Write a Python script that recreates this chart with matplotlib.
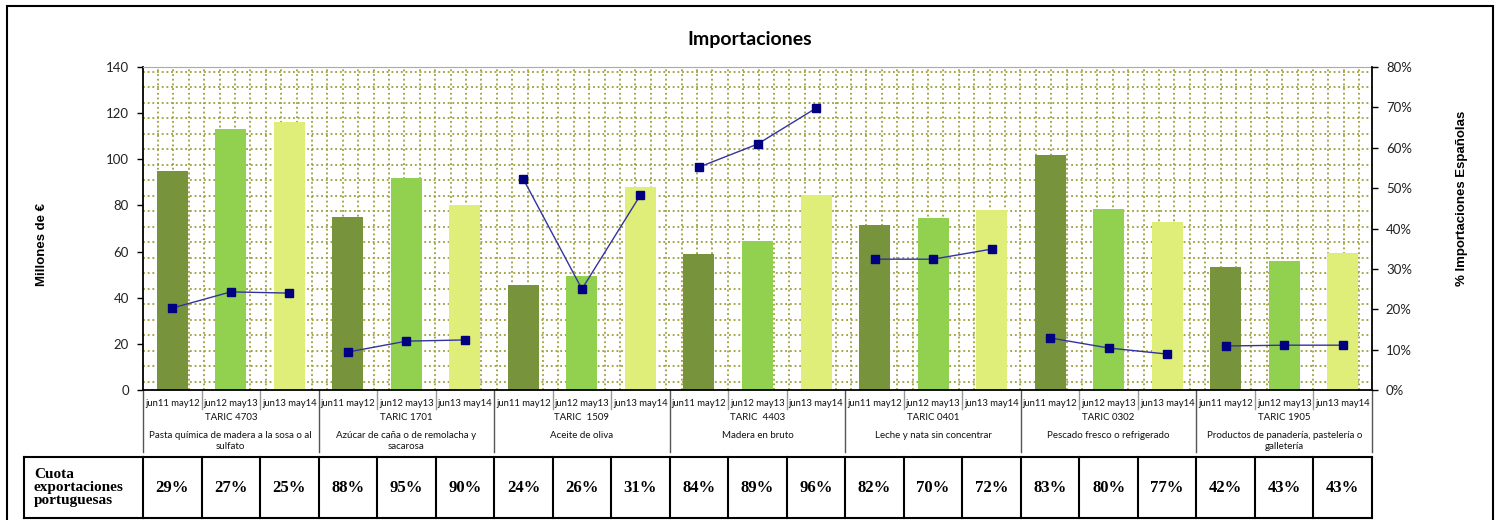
import matplotlib
matplotlib.use("Agg")
import matplotlib.pyplot as plt
import matplotlib.transforms as mtransforms
from matplotlib.patches import Rectangle
from matplotlib.collections import LineCollection
import numpy as np

# ---------------- data ----------------
periods = ["jun11 may12", "jun12 may13", "jun13 may14"]
taric_codes = ["TARIC 4703", "TARIC 1701", "TARIC  1509", "TARIC  4403",
               "TARIC 0401", "TARIC 0302", "TARIC 1905"]
descriptions = ["Pasta química de madera a la sosa o al\nsulfato",
                "Azúcar de caña o de remolacha y\nsacarosa",
                "Aceite de oliva",
                "Madera en bruto",
                "Leche y nata sin concentrar",
                "Pescado fresco o refrigerado",
                "Productos de panadería, pastelería o\ngalletería"]
# imports, millions of euro (per group: 3 periods)
imports_mill = [[95, 113, 116],
                [75, 92, 80],
                [45.5, 49.5, 88],
                [59, 64.5, 84.5],
                [71.5, 74.5, 78],
                [102, 78.5, 73],
                [53.5, 56, 59.5]]
# share of Spanish imports
share_spanish = [[0.203, 0.243, 0.240],
                 [0.094, 0.121, 0.124],
                 [0.522, 0.250, 0.483],
                 [0.552, 0.609, 0.698],
                 [0.324, 0.324, 0.349],
                 [0.129, 0.104, 0.089],
                 [0.109, 0.111, 0.111]]
# Portuguese export share (table row)
cuota_pt = [["29%", "27%", "25%"], ["88%", "95%", "90%"], ["24%", "26%", "31%"],
            ["84%", "89%", "96%"], ["82%", "70%", "72%"], ["83%", "80%", "77%"],
            ["42%", "43%", "43%"]]
bar_colors = ["#77933C", "#92D050", "#DFEE78"]

W, H = 1500, 520
fig = plt.figure(figsize=(W / 100, H / 100), dpi=100)
fig.patch.set_facecolor("white")

def fx(px):
    return px / W

def fy(py):
    return 1 - py / H

left, right, top, bottom = 143, 1372, 67, 390
ax = fig.add_axes([fx(left), fy(bottom), fx(right - left), fy(top) - fy(bottom)])
ax.set_facecolor("white")

n_groups = len(taric_codes)
n_per = len(periods)
n_cat = n_groups * n_per

# background dotted grid pattern
sp_x = 15.4 / (right - left)
sp_y = 15.5 / (bottom - top)
segs = []
xv = 15.0 / (right - left)
while xv < 1:
    segs.append([(xv, 0), (xv, 1)])
    xv += sp_x
yv = 1 - 4.7 / (bottom - top)
while yv > 0:
    segs.append([(0, yv), (1, yv)])
    yv -= sp_y
lc = LineCollection(segs, colors="#A3A345", linewidths=1.35,
                    linestyles=[(0, (1.0, 1.5))], transform=ax.transAxes, zorder=0.5)
ax.add_collection(lc)

# bars
for g in range(n_groups):
    for p in range(n_per):
        xi = g * n_per + p
        ax.bar(xi, imports_mill[g][p], width=0.53, color=bar_colors[p], zorder=2)

ax.set_xlim(-0.5, n_cat - 0.5)
ax.set_ylim(0, 140)
ax.set_yticks(np.arange(0, 141, 20))
ax.tick_params(axis="y", direction="out", length=4, width=1, labelsize=9.5,
               labelcolor="#222222", pad=6)
for lab in ax.get_yticklabels():
    lab.set_fontfamily("Lato")
ax.set_xticks([])
for s in ["left", "bottom"]:
    ax.spines[s].set_color("black")
    ax.spines[s].set_linewidth(1.3)
ax.spines["top"].set_color("#AAAAAA")
ax.spines["right"].set_visible(False)

# secondary axis with line
ax2 = ax.twinx()
ax2.set_ylim(0, 0.8)
ax2.set_yticks(np.arange(0, 0.81, 0.1))
ax2.set_yticklabels([f"{int(round(v * 100))}%" for v in np.arange(0, 0.81, 0.1)],
                    fontfamily="Lato")
ax2.tick_params(axis="y", direction="out", length=4, width=1, labelsize=9.5,
                labelcolor="#222222", pad=6)
ax2.spines["right"].set_color("black")
ax2.spines["right"].set_linewidth(1.3)
for s in ["left", "top", "bottom"]:
    ax2.spines[s].set_visible(False)
for g in range(n_groups):
    xs = [g * n_per + p for p in range(n_per)]
    ax2.plot(xs, share_spanish[g], color="#3333A0", lw=1.0, marker="s",
             markersize=6, markerfacecolor="#000080", markeredgecolor="#000080",
             zorder=3)

# x-axis multilevel labels
bt = mtransforms.blended_transform_factory(ax.transData, fig.transFigure)
for i in range(n_cat):
    ax.text(i, fy(403), periods[i % n_per], transform=bt, ha="center", va="center",
            fontsize=6.8, family="Lato", color="#111111")
    if i > 0 and i % n_per != 0:
        ax.plot([i - 0.5, i - 0.5], [fy(bottom), fy(409)], transform=bt,
                color="#999999", lw=1, clip_on=False)
for g in range(n_groups + 1):
    xb = g * n_per - 0.5
    ax.plot([xb, xb], [fy(bottom), fy(452)], transform=bt, color="#555555",
            lw=1, clip_on=False)
for g in range(n_groups):
    xc = g * n_per + 1
    ax.text(xc, fy(418), taric_codes[g], transform=bt, ha="center", va="center",
            fontsize=7.0, family="Lato", color="#111111")
    ax.text(xc, fy(431), descriptions[g], transform=bt, ha="center", va="top",
            fontsize=7.0, family="Lato", color="#111111", linespacing=1.3)

# title and axis labels
fig.text(0.5, fy(40), "Importaciones", ha="center", va="center", fontsize=14,
         fontweight="bold", family="Lato")
fig.text(fx(42), fy(244), "Millones de €", rotation=90, ha="center", va="center",
         fontsize=9.5, fontweight="bold", family="Liberation Sans")
fig.text(fx(1462), fy(198), "% Importaciones Españolas", rotation=90, ha="center",
         va="center", fontsize=9.5, fontweight="bold", family="Liberation Sans")

# table row
t_top, t_bot = fy(457), fy(518)
ax.plot([fx(24), fx(24)], [t_bot, t_top], transform=fig.transFigure, color="black",
        lw=1.5, clip_on=False)
ax.plot([fx(24), fx(left)], [t_top, t_top], transform=fig.transFigure, color="black",
        lw=1.5, clip_on=False)
ax.plot([fx(24), fx(left)], [t_bot, t_bot], transform=fig.transFigure, color="black",
        lw=1.5, clip_on=False)
ax.plot([-0.5, n_cat - 0.5], [t_top, t_top], transform=bt, color="black", lw=1.5,
        clip_on=False)
ax.plot([-0.5, n_cat - 0.5], [t_bot, t_bot], transform=bt, color="black", lw=1.5,
        clip_on=False)
for i in range(n_cat + 1):
    ax.plot([i - 0.5, i - 0.5], [t_bot, t_top], transform=bt, color="black", lw=1.5,
            clip_on=False)
for i in range(n_cat):
    ax.text(i, (t_top + t_bot) / 2, cuota_pt[i // n_per][i % n_per], transform=bt,
            ha="center", va="center", fontsize=12, fontweight="bold",
            family="Liberation Serif")
fig.text(fx(34), (t_top + t_bot) / 2, "Cuota\nexportaciones\nportuguesas",
         ha="left", va="center", fontsize=11, fontweight="bold",
         family="Liberation Serif", linespacing=1.0)

# outer chart frame
fig.patches.append(Rectangle((fx(7), -0.05), fx(1493 - 7), fy(6) + 0.05,
                             transform=fig.transFigure, fill=False,
                             edgecolor="black", lw=1.5))

fig.savefig("out.png", dpi=100)
